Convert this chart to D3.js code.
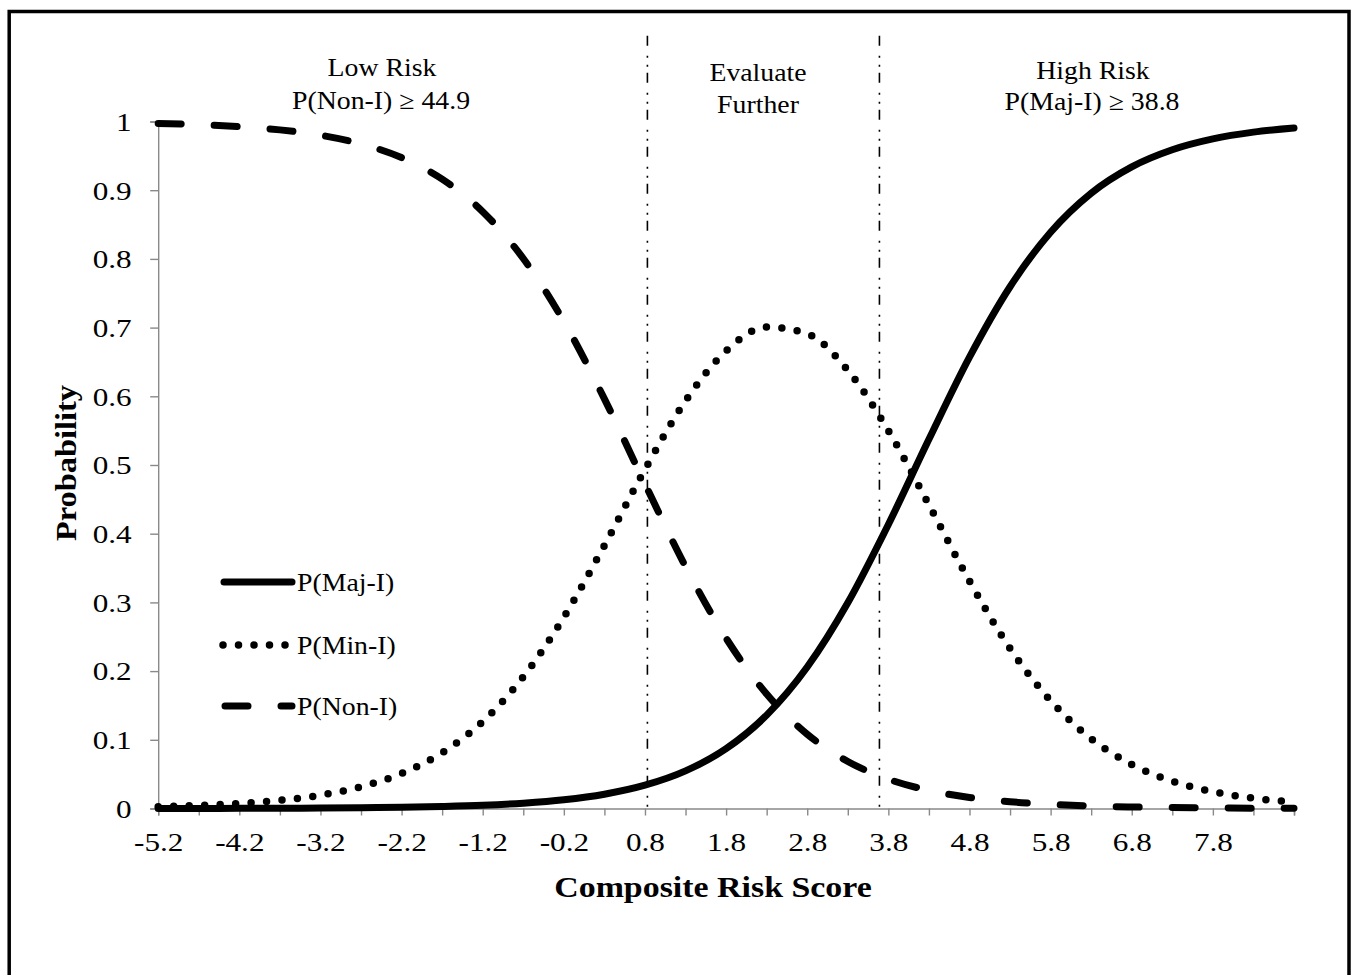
<!DOCTYPE html>
<html>
<head>
<meta charset="utf-8">
<script src="https://cdn.jsdelivr.net/npm/d3@7"></script>
<style>
  body { margin: 0; background: #fff; }
  svg { display: block; }
  text { font-family: "Liberation Serif", "Times New Roman", serif; fill: #000; }
</style>
</head>
<body>
<svg id="chart" width="1351" height="975"></svg>
<script>
// Composite risk score (x) and predicted probabilities of each injury class
const scores = [-5.2, -4.7, -4.2, -3.7, -3.2, -2.7, -2.2, -1.7, -1.2, -0.7, -0.2, 0.3, 0.8, 1.3,
                1.8, 2.3, 2.8, 3.3, 3.8, 4.3, 4.8, 5.3, 5.8, 6.3, 6.8, 7.3, 7.8, 8.3, 8.8];
const pMajor = [0.0001, 0.0001, 0.0002, 0.0004, 0.0006, 0.0011, 0.0017, 0.0029, 0.0047, 0.0078,
                0.0127, 0.0208, 0.0339, 0.0547, 0.0871, 0.1359, 0.2059, 0.2994, 0.4134, 0.5374,
                0.6570, 0.7595, 0.8389, 0.8957, 0.9340, 0.9589, 0.9747, 0.9845, 0.9905];
const pMinor = [0.0027, 0.0044, 0.0072, 0.0119, 0.0194, 0.0316, 0.0509, 0.0811, 0.1265, 0.1916,
                0.2784, 0.3829, 0.4936, 0.5935, 0.6660, 0.7010, 0.6910, 0.6380, 0.5500, 0.4420,
                0.3310, 0.2330, 0.1570, 0.1015, 0.0640, 0.0398, 0.0245, 0.0150, 0.0092];
const pNone  = [0.9972, 0.9955, 0.9925, 0.9878, 0.9800, 0.9674, 0.9474, 0.9161, 0.8688, 0.8006,
                0.7089, 0.5963, 0.4725, 0.3521, 0.2479, 0.1666, 0.1081, 0.0685, 0.0427, 0.0263,
                0.0161, 0.0099, 0.0060, 0.0037, 0.0022, 0.0014, 0.0008, 0.0005, 0.0003];

// Score cut-offs separating the three decision zones
const cutoffs = [0.83, 3.69];

const xTickLabels = ["-5.2", "-4.2", "-3.2", "-2.2", "-1.2", "-0.2", "0.8", "1.8",
                     "2.8", "3.8", "4.8", "5.8", "6.8", "7.8"];
const yTickLabels = ["0", "0.1", "0.2", "0.3", "0.4", "0.5", "0.6", "0.7", "0.8", "0.9", "1"];

const seriesNames = ["P(Maj-I)", "P(Min-I)", "P(Non-I)"];

const zones = [
  { lines: ["Low Risk", "P(Non-I) \u2265 44.9"], x: [382, 381], y: [75.5, 108.5] },
  { lines: ["Evaluate", "Further"], x: [758, 758], y: [80.5, 112.5] },
  { lines: ["High Risk", "P(Maj-I) \u2265 38.8"], x: [1093, 1092], y: [79, 109.5] }
];

const svg = d3.select("#chart");
const W = 1351, H = 975;

svg.append("rect").attr("width", W).attr("height", H).attr("fill", "#fff");
// outer frame
svg.append("rect")
  .attr("x", 9.2).attr("y", 11.5)
  .attr("width", 1339.8).attr("height", 1000)
  .attr("fill", "none").attr("stroke", "#000").attr("stroke-width", 3.5);

const x = d3.scaleLinear().domain([-5.2, 8.8]).range([158.2, 1294]);
const y = d3.scaleLinear().domain([0, 1]).range([808.5, 121.5]);

const AXIS = "#898989";
const TICK_FS = 26, TICK_SX = 1.2;
const LABEL_FS = 25.5, LABEL_SX = 1.09;

// horizontally widened text, anchored at (px, py)
function wideText(parent, px, py, str, size, sx, anchor, weight, rotate) {
  const t = parent.append("text")
    .attr("transform", `translate(${px},${py})` + (rotate ? ` rotate(${rotate})` : "") + ` scale(${sx},1)`)
    .attr("text-anchor", anchor)
    .style("font-size", size + "px")
    .text(str);
  if (weight) t.style("font-weight", weight);
  return t;
}

// ---- axes ----
const yAxis = d3.axisLeft(y)
  .tickValues(yTickLabels.map(Number))
  .tickSize(8)
  .tickFormat((d, i) => yTickLabels[i]);
const gy = svg.append("g").attr("transform", `translate(${x(-5.2)},0)`).call(yAxis);
gy.select(".domain").attr("stroke", AXIS).attr("stroke-width", 1.4);
gy.selectAll(".tick line").attr("stroke", AXIS).attr("stroke-width", 1.4);
gy.selectAll(".tick text")
  .attr("x", null).attr("dy", "0.34em")
  .attr("transform", `translate(-26.5,0) scale(${TICK_SX},1)`)
  .attr("font-family", null).attr("font-size", null)
  .style("font-size", TICK_FS + "px").attr("fill", "#000");

const xTickValues = d3.range(0, 29).map(k => -5.2 + k * 0.5);
const xAxis = d3.axisBottom(x)
  .tickValues(xTickValues)
  .tickSize(7)
  .tickFormat((d, i) => (i % 2 === 0 && xTickLabels[i / 2]) ? xTickLabels[i / 2] : "");
const gx = svg.append("g").attr("transform", `translate(0,${y(0)})`).call(xAxis);
gx.select(".domain").attr("stroke", AXIS).attr("stroke-width", 1.4);
gx.selectAll(".tick line").attr("stroke", AXIS).attr("stroke-width", 1.4);
gx.selectAll(".tick text")
  .attr("y", null).attr("dy", null)
  .attr("transform", `translate(0,42.5) scale(${TICK_SX},1)`)
  .attr("font-family", null).attr("font-size", null)
  .style("font-size", TICK_FS + "px").attr("fill", "#000");

// axis titles
wideText(svg, 713, 897, "Composite Risk Score", 30, 1.13, "middle", "bold");
wideText(svg, 76, 463, "Probability", 30, 1.08, "middle", "bold", -90);

// ---- cut-off lines ----
svg.append("g").selectAll("line").data(cutoffs).join("line")
  .attr("x1", d => x(d)).attr("x2", d => x(d))
  .attr("y1", y(1.125)).attr("y2", y(0))
  .attr("stroke", "#000").attr("stroke-width", 1.6)
  .attr("stroke-dasharray", "10,10,2,7,2,6");

// zone captions
zones.forEach(z => {
  z.lines.forEach((s, i) => wideText(svg, z.x[i], z.y[i], s, LABEL_FS, LABEL_SX, "middle"));
});

// ---- curves ----
const styles = [
  { values: pMajor, dash: null, width: 7 },
  { values: pMinor, dash: "0,15.5", width: 7.5 },
  { values: pNone, dash: "23,33", width: 7 }
];
const line = d3.line()
  .x(d => x(d[0])).y(d => y(d[1]))
  .curve(d3.curveMonotoneX);

const curves = svg.append("g");
[2, 1, 0].forEach(k => {
  const st = styles[k];
  curves.append("path")
    .datum(scores.map((s, i) => [s, st.values[i]]))
    .attr("d", line)
    .attr("fill", "none")
    .attr("stroke", "#000")
    .attr("stroke-width", st.width)
    .attr("stroke-linecap", "round")
    .attr("stroke-dasharray", st.dash);
});

// ---- legend ----
const legendY = [582, 645, 706];
const legendX = [[224, 292], [223, 293], [225, 292]];
const legend = svg.append("g");
styles.forEach((st, k) => {
  legend.append("line")
    .attr("x1", legendX[k][0]).attr("x2", legendX[k][1])
    .attr("y1", legendY[k]).attr("y2", legendY[k])
    .attr("stroke", "#000")
    .attr("stroke-width", st.width)
    .attr("stroke-linecap", "round")
    .attr("stroke-dasharray", st.dash);
  wideText(legend, 297, legendY[k] + 8.5, seriesNames[k], LABEL_FS, LABEL_SX, "start");
});
</script>
</body>
</html>
